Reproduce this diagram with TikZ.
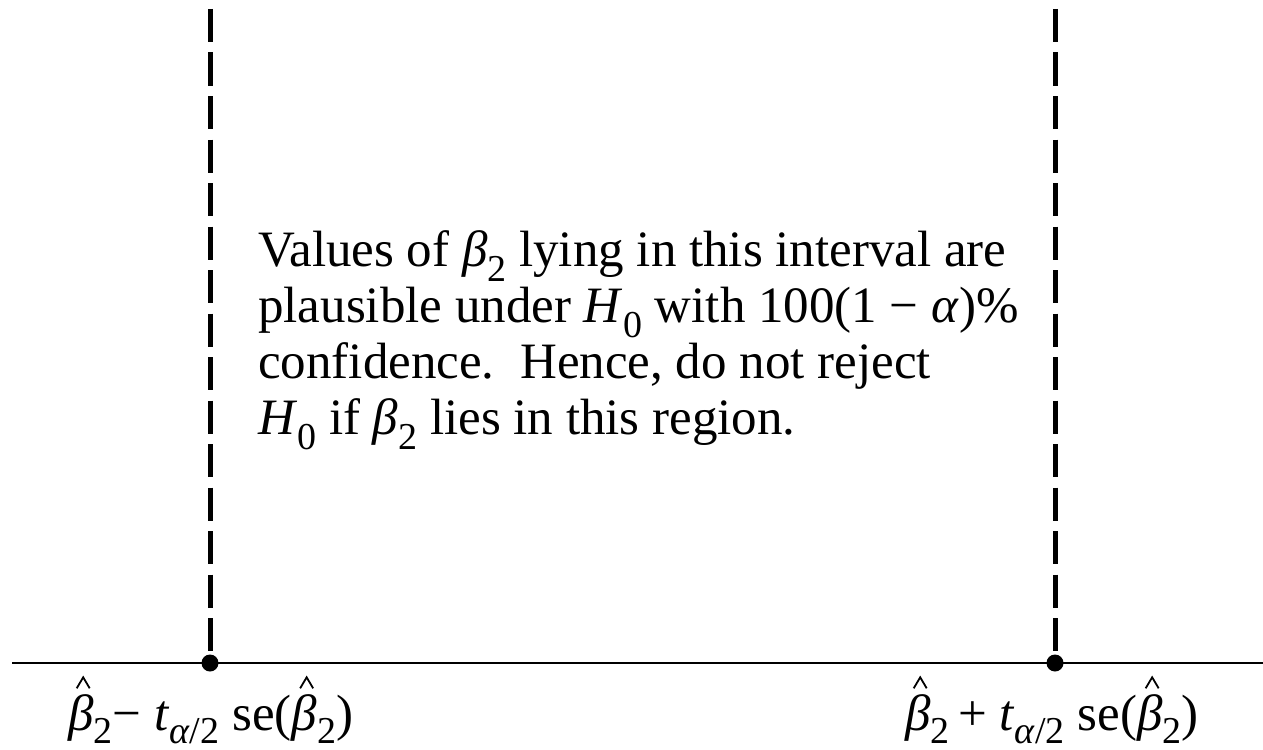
\documentclass[tikz,border=0pt]{standalone}
\usepackage{fontspec}
\setmainfont{Liberation Serif}
\newcommand\sbs[1]{\raisebox{-0.3em}{\fontsize{38bp}{38bp}\selectfont #1}}
\newcommand\lsbs[1]{\raisebox{-0.26em}{\fontsize{38bp}{38bp}\selectfont #1}}
\newcommand\bhat{\textit{β}\llap{\raisebox{0.8em}{\tikz[x=1bp,y=1bp,line width=1.8bp]\draw (0,0)--(6.5,11)--(13,0);}\kern3bp}}
\begin{document}
\begin{tikzpicture}[x=1bp,y=-1bp,
  vline/.style={line width=5bp,dash pattern=on 33bp off 10.5bp},
  axis/.style={line width=2.2bp},
  pt/.style={circle,fill=black,inner sep=0pt,minimum size=17bp},
  lbl/.style={font=\fontsize{51bp}{56bp}\selectfont,inner sep=0pt}]
\useasboundingbox (0,0) rectangle (1263,750);
\coordinate (axL) at (12,663);
\coordinate (axR) at (1263,663);
\coordinate (topL) at (210,9);
\coordinate (topR) at (1055,9);
\node[pt] (pL) at (210,663) {};
\node[pt] (pR) at (1055,663) {};
\draw[axis] (axL) -- (axR);
\draw[vline] (topL) -- (pL.center);
\draw[vline] (topR) -- (pR.center);
\node[lbl,anchor=base west,align=left] (txt) at (258,434)
 {Values of \textit{β}\sbs{2} lying in this interval are\\
  plausible under \textit{H}\sbs{0} with 100(1 − \textit{α})\%\\
  confidence.\ \ Hence, do not reject\\
  \textit{H}\sbs{0} if \textit{β}\sbs{2} lies in this region.};
\node[lbl,anchor=base west] (lL) at (68,730)
 {\bhat\lsbs{2}− \textit{t}\lsbs{\textit{α}/2} se(\bhat\lsbs{2})};
\node[lbl,anchor=base west] (lR) at (905,730)
 {\bhat\lsbs{2}\,+ \textit{t}\lsbs{\textit{α}/2} se(\bhat\lsbs{2})};
\end{tikzpicture}
\end{document}
